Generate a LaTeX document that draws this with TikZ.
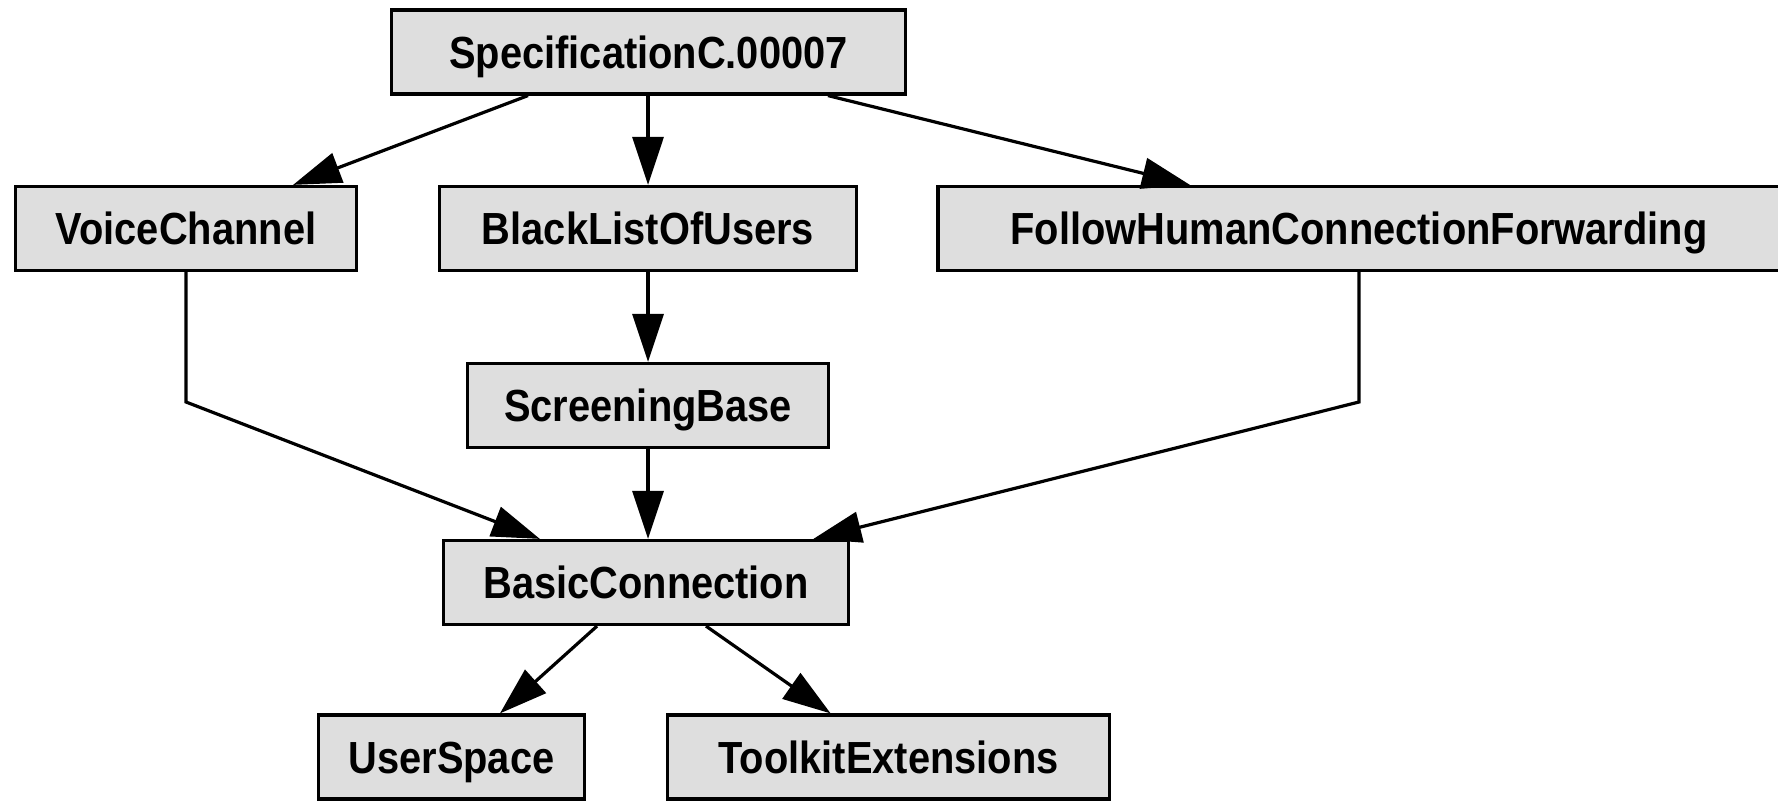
\documentclass[tikz,border=0pt]{standalone}
\usepackage{fontspec}
\setmainfont{Liberation Sans}[FakeStretch=0.885]
\usetikzlibrary{arrows.meta,calc}
\definecolor{boxfill}{RGB}{222,222,222}
\begin{document}
\begin{tikzpicture}[x=1pt,y=-1pt,
  cls/.style={draw=black, fill=boxfill, line width=3.2pt, minimum height=84pt, inner sep=0pt,
    text height=32.2pt, text depth=0pt,
    font=\fontsize{45}{50}\selectfont\bfseries},
  edge/.style={line width=3.2pt, -{Triangle[length=48pt,width=31pt]}}]
\useasboundingbox (0,0) rectangle (1778,802);
\node[cls, minimum width=514pt] (spec) at (648.5,52) {SpecificationC.00007};
\node[cls, minimum width=341pt] (vc) at (186,228.5) {VoiceChannel};
\node[cls, minimum width=417pt] (bl) at (648,228.5) {BlackListOfUsers};
\node[cls, minimum width=842pt] (fh) at (1359,228.5) {FollowHumanConnectionForwarding};
\node[cls, minimum width=361pt] (sb) at (648,405.5) {ScreeningBase};
\node[cls, minimum width=405pt] (bc) at (646,582.5) {BasicConnection};
\node[cls, minimum width=266pt] (us) at (451.5,757) {UserSpace};
\node[cls, minimum width=442pt] (tk) at (888.5,757) {ToolkitExtensions};
\coordinate (vcbend) at (186,402);
\coordinate (fhbend) at (1359,402);
\draw[edge] ($(spec.south west)!0.267!(spec.south east)$) -- ($(vc.north west)!0.811!(vc.north east)$);
\draw[edge] (spec.south -| bl.north) -- (bl.north);
\draw[edge] ($(spec.south west)!0.847!(spec.south east)$) -- ($(fh.north west)!0.30!(fh.north east)$);
\draw[edge] (bl.south) -- (bl.south |- sb.north);
\draw[edge] (sb.south) -- (sb.south |- bc.north);
\draw[edge] (vc.south) -- (vcbend) -- ($(bc.north west)!0.24!(bc.north east)$);
\draw[edge] (fh.south) -- (fhbend) -- ($(bc.north west)!0.91!(bc.north east)$);
\draw[edge] ($(bc.south west)!0.38!(bc.south east)$) -- ($(us.north west)!0.68!(us.north east)$);
\draw[edge] ($(bc.south west)!0.647!(bc.south east)$) -- ($(tk.north west)!0.37!(tk.north east)$);
\end{tikzpicture}
\end{document}
